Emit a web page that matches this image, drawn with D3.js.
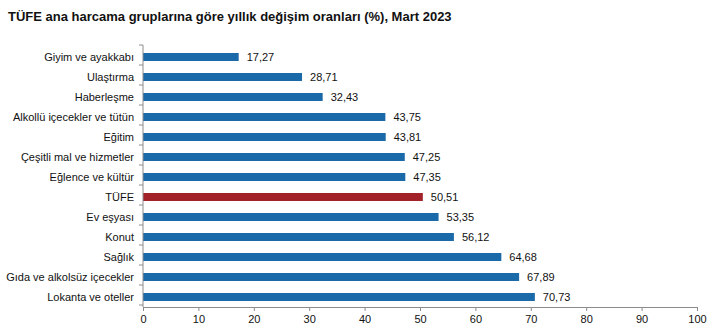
<!DOCTYPE html>
<html>
<head>
<meta charset="utf-8">
<script src="https://cdn.jsdelivr.net/npm/d3@7"></script>
<style>
  html, body { margin: 0; padding: 0; background: #fff; }
  svg { display: block; font-family: "Liberation Sans", Arial, sans-serif; }
</style>
</head>
<body>
<svg id="chart" width="713" height="332"></svg>
<script>
// Annual change by main expenditure group (%), March 2023
const categories = [
  "Giyim ve ayakkabı",
  "Ulaştırma",
  "Haberleşme",
  "Alkollü içecekler ve tütün",
  "Eğitim",
  "Çeşitli mal ve hizmetler",
  "Eğlence ve kültür",
  "TÜFE",
  "Ev eşyası",
  "Konut",
  "Sağlık",
  "Gıda ve alkolsüz içecekler",
  "Lokanta ve oteller"
];
const values = [17.27, 28.71, 32.43, 43.75, 43.81, 47.25, 47.35, 50.51, 53.35, 56.12, 64.68, 67.89, 70.73];
const valueLabels = ["17,27", "28,71", "32,43", "43,75", "43,81", "47,25", "47,35", "50,51", "53,35", "56,12", "64,68", "67,89", "70,73"];
const xTicks = [0, 10, 20, 30, 40, 50, 60, 70, 80, 90, 100];
const highlight = "TÜFE";
const title = "TÜFE ana harcama gruplarına göre yıllık değişim oranları (%), Mart 2023";

const svg = d3.select("#chart");
const plot = { left: 143, right: 697, top: 47, bottom: 307 };

const x = d3.scaleLinear().domain([0, 100]).range([plot.left, plot.right]);
const y = d3.scaleBand().domain(categories).range([plot.top, plot.bottom]).paddingInner(0.6).paddingOuter(0.3);

svg.append("text")
  .attr("x", 8).attr("y", 21)
  .attr("font-size", 13).attr("font-weight", "bold").attr("fill", "#111")
  .text(title);

// bars
svg.append("g").selectAll("rect")
  .data(categories)
  .join("rect")
  .attr("x", x(0))
  .attr("y", d => y(d))
  .attr("width", (d, i) => x(values[i]) - x(0))
  .attr("height", y.bandwidth())
  .attr("fill", d => d === highlight ? "#a3222a" : "#1a69a9");

// value labels
svg.append("g").selectAll("text")
  .data(categories)
  .join("text")
  .attr("x", (d, i) => x(values[i]) + 8)
  .attr("y", d => y(d) + y.bandwidth() / 2)
  .attr("dy", "0.35em")
  .attr("font-size", 11).attr("fill", "#111")
  .text((d, i) => valueLabels[i]);

// category axis: line with ticks between bands
const axisColor = "#8c8c8c";
const yg = svg.append("g");
yg.append("line").attr("x1", plot.left).attr("x2", plot.left).attr("y1", plot.top - 2).attr("y2", plot.bottom).attr("stroke", axisColor);
const step = y.step();
const bounds = d3.range(categories.length + 1).map(i => plot.top + i * step - 2);
yg.selectAll("line.tk").data(bounds).join("line").attr("class", "tk")
  .attr("x1", plot.left - 4).attr("x2", plot.left).attr("y1", d => d).attr("y2", d => d).attr("stroke", axisColor);
yg.selectAll("text").data(categories).join("text")
  .attr("x", plot.left - 9)
  .attr("y", d => y(d) + y.bandwidth() / 2)
  .attr("dy", "0.35em")
  .attr("text-anchor", "end")
  .attr("font-size", 11).attr("fill", "#111")
  .text(d => d);

// value axis
const xAxis = d3.axisBottom(x).tickValues(xTicks).tickSize(4).tickSizeOuter(0).tickPadding(4).tickFormat(d3.format("d"));
const xg = svg.append("g").attr("transform", `translate(0,${plot.bottom})`).call(xAxis);
xg.select(".domain").attr("stroke", axisColor);
xg.selectAll(".tick line").attr("stroke", axisColor);
xg.selectAll(".tick text").attr("font-size", 11).attr("fill", "#111").attr("font-family", "Liberation Sans, Arial, sans-serif");
</script>
</body>
</html>
